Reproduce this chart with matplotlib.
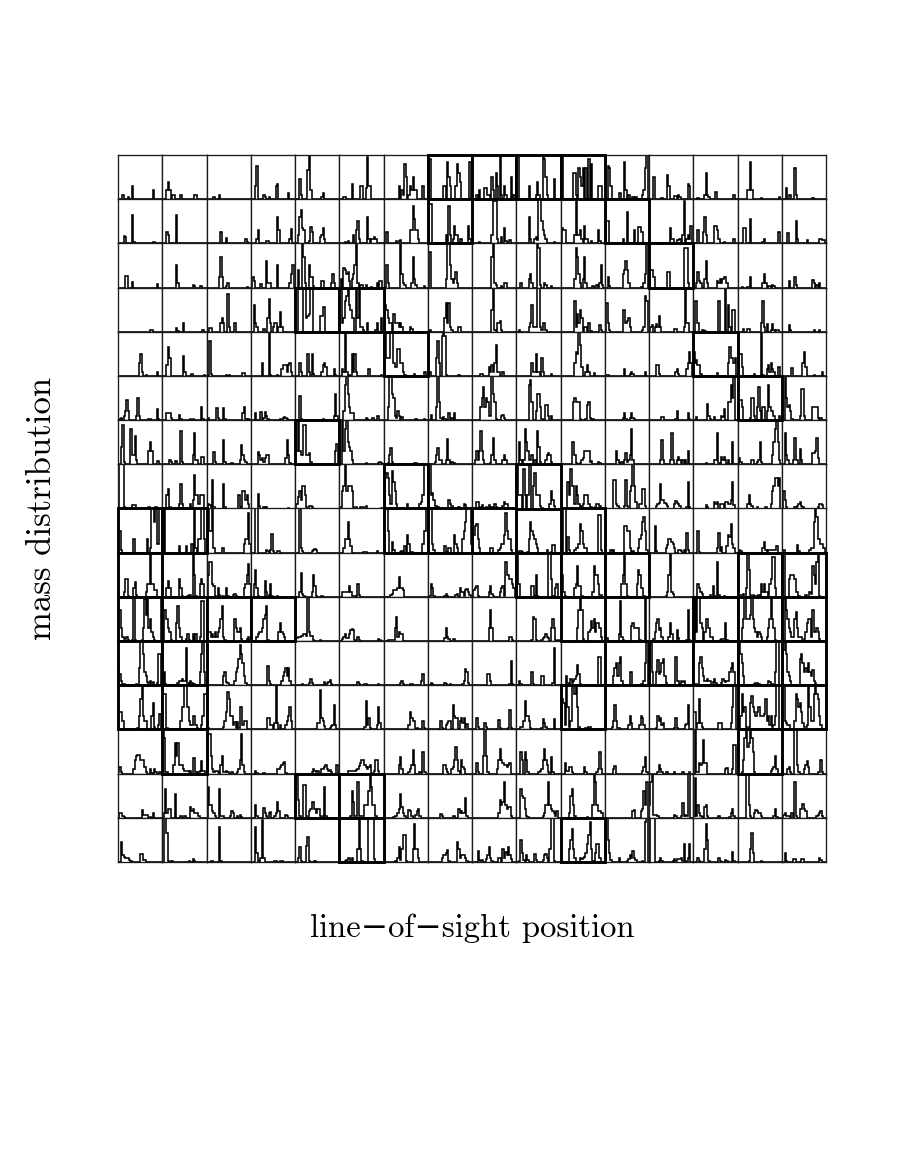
import numpy as np
import matplotlib
matplotlib.use("Agg")
import matplotlib.pyplot as plt
from matplotlib.patches import Rectangle

N_BINS = 32
X_LABEL = "line\u2212of\u2212sight position"
Y_LABEL = "mass distribution"

ROW_00 = [{3:1,7:.5,10:3,25:2},{3:2,4:4,5:2,7:1,8:1,13:1,23:1,24:1},{5:.4,9:1},{3:3,4:7.5,9:1,10:.6,13:.4,18:3,19:3.5,27:1.5},
 {3:4.5,4:1,9:6.5,10:10,11:2,19:.6,20:1.5},{3:.5,4:.5,9:3.5,15:3,16:3,19:2.5,20:9.5,21:3,22:3},{11:3,13:2,14:1,15:8,16:5,18:1,19:3,20:2,21:5,22:2,23:2,28:3},{1:9,11:3,12:3,14:8.5,15:5,16:3,20:3,21:8,22:6,23:4,30:8.5},
 {3:1,5:2,9:2.5,10:2.5,11:1,12:1,14:5,15:2,17:6,18:3,20:10,21:1,23:3,24:1,28:5,30:1},{0:10,1:10,9:3,14:1,15:4,16:1,19:10,20:9,21:5,22:1,27:4.5},{0:10,1:10,9:6,10:6,11:1,13:7,14:5,15:3,16:7,18:7,20:9,22:8,27:3,28:3,29:3},{2:7.5,3:7,4:3,10:1.5,11:1.5,14:8.5,15:2,17:1,20:.5,22:.5,27:1,28:2,29:7,30:10},
 {3:5,9:.3,13:5.5,14:3,18:.7,19:.7,21:1,22:.5,28:3.5,29:3},{3:.3,8:1,9:6,10:1,11:.5,16:1.7,29:1},{7:2,8:2,9:8.5,10:2,17:.3,30:.5},{3:2.5,5:1,6:1,9:7,10:1,22:.3}]
ROW_01 = [{4:1.7,5:1.5,10:6.5,11:.3,25:.3,26:.3},{3:2.5,4:2,10:6.5},{10:2.5,14:1.3,28:1,29:.4},{4:1,5:3,11:.6,12:.6,19:6,20:3,28:1,29:3.3},
 {2:2,3:6,4:7.5,5:3.5,6:3,10:.5,11:3.8,12:2.5,18:1.5,19:2,20:3.5,21:1},{4:.4,6:.5,10:2,12:3,13:5,14:1,20:6,21:1,23:1,24:1,25:1.5,26:1},{2:2.5,9:.5,11:.6,12:.8,19:3,20:3,21:8.5,22:5.5,23:3,24:3,25:1},{1:9,2:9,13:2,15:8.5,16:2,18:1,19:4,20:2,21:2,23:1,24:1,29:4,30:1},
 {5:.3,14:2,15:9.5,16:9.5,17:9.5,18:1,21:1.5,23:3.5,24:.5,27:.7},{9:6,10:1,13:1,14:1.5,15:.7,16:10,17:10,18:5,19:3,20:2,21:1,27:.3},{1:3.5,2:3,3:3,10:2,11:10,12:2,13:2,14:3,15:1,17:4,18:1,19:1,22:.5,27:3,28:.5},{1:5,2:5,13:1,16:7,21:3,24:3.7,25:3.7,26:2.5,27:2.5},
 {15:3.5,16:1,17:1,20:.7,21:.7,22:1,24:2,25:9.5,27:1,28:2,29:1,30:4},{3:3,7:2.5,8:6,9:2,15:4,16:4,17:3,18:1,22:.3,29:1},{4:3.5,5:3.5,9:5.5,18:.3,19:1,29:2.5,30:2.5},{4:2.3,10:5,11:1,18:.7,27:1,28:1,29:.7,30:.7}]
ROW_02 = [{5:2.6,6:2.6,10:1.2,28:.7},{10:5,11:1,22:.5,23:.3,27:.4,28:.3},{9:2.5,10:7,11:2.5,14:.3,15:1,29:.2},{1:2.5,2:1.5,7:.7,11:6,12:1,13:1,14:1,19:5,28:1,29:3,30:5},
 {2:4,5:10,6:7,7:1,10:5,11:2.5,12:2.5,13:.3,19:1.5,20:1.5,26:1,27:3,28:1},{1:2,3:4.5,4:4,5:3,6:3.5,7:1.5,9:2,10:3,11:5,12:10,13:1,15:.5,16:.5,19:.6,23:.2,27:1,29:1.5,30:1.5},{2:5,3:1,12:10,13:3,14:1,15:.5,20:1,21:7,22:2,23:.5,29:.3},{1:8,13:2,14:10,15:10,16:5,17:2,18:1,19:2,20:3.5,21:1},
 {14:7,15:10,16:1,17:.5,21:.3,23:1,24:1},{3:1,9:2,10:3,11:1,15:10,16:9,17:.5,20:1,21:.5,25:.3},{10:2,11:9,12:7,13:3,14:1,16:2,17:7,18:1,23:.3,26:.5,28:1,29:5,30:.5},{2:2.5,3:.3,13:3,14:4,15:6,16:4,17:1,26:.2,28:1,29:3,30:10},
 {1:4,2:4,3:2.5,13:3.5,14:3.5,25:9,26:9,27:9,28:1},{2:1,3:3.5,4:1.5,5:1,8:2,9:6,10:1,17:1.5,18:1,19:2,20:1,21:2,22:2.5,23:2.5,24:1},{3:.2,7:.2,8:.2,9:2.3,18:1,19:3,20:1,22:.3,23:.3,25:.6,26:.3},{5:1.5,9:2.3,10:.5,22:1.7,23:1,25:.5,27:1}]
ROW_03 = [{23:.3,24:.3},{10:.8,11:.2,15:2,29:.3},{2:.8,3:.8,10:2,11:3,12:2,15:8.5,16:1,20:2},{2:6,3:2,4:1,9:.7,12:3,13:7.5,14:2,16:1,17:2,18:2,20:1,21:4.5,22:1},
 {0:10,1:10,6:10,7:10,8:3,9:3.5,10:4,11:10,12:10,18:3.5,19:3.5,20:5.5,21:5.5},{0:10,1:10,2:2,3:3,4:7,5:8,6:10,7:6,8:5,9:3,10:3,12:10,13:3,14:10,15:1,16:1,17:.5,20:2,26:.5,27:2,30:3},{0:10,1:6,2:5,3:3,4:2,5:2,7:4,8:2,9:2,10:2,11:1,12:2,13:1,19:1,20:.7},{1:.5,12:3,13:6.5,14:2,15:6.5,16:1,17:.5,22:1,23:1},
 {14:5,15:10,16:.5,18:2,19:2,20:2.5,21:.5},{2:.3,9:1,10:2,11:6,12:1,13:1,14:1,15:10,16:10,17:1,18:.3,19:2,20:2,21:.5},{10:7,11:1,12:4,13:2,14:5,15:3,17:1,18:1,20:2,22:.2,28:1.5,29:.3},{1:6.5,2:2,3:.3,13:5,14:5,15:2,16:2.5,17:3,18:1,27:.4,28:1,29:8,30:7},
 {1:1,2:1.5,4:1,5:1.7,6:1,7:3.5,8:1,18:.7,19:.7,25:1,26:10,27:2,28:2},{1:7,2:7,3:2,6:.3,7:.4,8:.2,18:7,23:10,25:6,26:1,28:5,29:5},{4:.7,7:.7,8:.7,17:2,18:7,19:1,21:1.7,24:.5,25:1.7,26:.5,28:.5,29:.5},{5:1.5,6:.5,23:.3,27:.3}]
ROW_04 = [{15:3,16:5,17:1,20:.2,28:1},{3:2.5,4:6.5,5:4,15:4.5,16:1,21:.4,30:.3},{2:8,3:.5,14:.3,16:.3,26:.7,27:.7},{8:3,13:10,14:.3,19:.2,22:1.5,23:2.5,24:2.5,25:2.5,26:1,27:2.5,28:3,29:1},
 {3:3,4:1,9:5,10:1,12:5,13:.5,19:1,20:2.5,21:3,22:2,28:1.5,29:.3},{2:1.5,3:1,4:10,5:1,7:.3,9:5,10:1,11:5,12:1,21:1.5,30:.2},{0:10,1:10,2:4,3:4,4:4,5:10,6:10,7:3,8:2,9:2,10:6,11:6,12:3,13:3,14:1,15:.2,22:.5,29:1,30:1},{1:1,6:4,7:8,8:3,10:9,11:10,12:9,13:.2,22:.2},
 {6:.4,7:.4,12:2,13:1,14:2.5,15:1,16:3,17:7,18:1,19:1,22:1},{11:3,12:1,13:1,14:5,15:1,16:1,18:4,19:1,25:.5},{10:3,11:5.5,12:5,13:10,14:7,15:2,18:1,19:2.5,20:1,24:.7},{1:.2,2:.2,14:1.5,18:.5,19:1,20:.5,29:1},
 {5:2.5,6:2.5,7:.4,19:1,20:1.5,21:.5,27:1.5,28:3,29:5.5,30:3},{0:5.5,1:3,2:3.5,3:2.5,4:2.5,5:.5,17:.7,25:3,26:6.5,27:4,28:4,29:3,30:4},{1:5,2:5,3:2,12:.4,17:10,18:.3,21:1.5,22:2.5,23:1,24:3,25:1.5,26:1,29:2,30:2},{7:1.7,15:3,16:5.5,17:2,23:.3,29:1}]
ROW_05 = [{1:.2,2:.4,4:1,5:2,6:4.5,7:2,13:1,14:5,15:1,22:.3,23:.3,28:2.5,29:.3},{3:1.7,4:1.7,5:1.7,6:.5,12:1.2,13:.3,20:.2,22:.2,28:3,29:.3},{1:.4,7:2.7,8:.5,12:2.7,13:.3,26:1.5,27:3,28:.2,30:.3},{3:1.5,7:1.8,9:.5,10:1.8,11:1,12:.2,21:.2,23:.5,24:.7,25:.5,26:.2},
 {3:5.5,4:.3,20:.2,28:1,29:6,30:1},{3:2,4:8,5:10,6:6,7:3,8:1.5,9:1.5,10:1.5,19:.4,20:.2,24:.4,27:1,28:1},{3:3,4:10,5:10,6:6,7:5,8:1,9:.5,10:2,11:1,13:.7,23:.2,29:.3},{2:1.2,6:3,7:10,8:4,9:.5,11:.6,12:.3,15:1.7,17:.5,19:1.7},
 {6:3,7:5,8:7.5,9:3,10:5,11:4,12:1,13:1,14:10,15:6,16:4,17:.3,21:1,22:1.2,23:.5},{9:8,10:9,11:4,14:2,15:6,16:6,17:3,18:.3,21:3.5,22:3.5,23:1,25:1},{9:4,10:5,11:4,12:4,13:4,14:.3,18:.3,19:3.5,20:4,21:.5,23:.3},{13:.5,14:1.5,15:.2,18:.5,19:1.7,20:.5,21:.3},
 {9:.6,10:.6,19:.3,20:2,28:1.5,29:.3},{2:.7,10:3.7,11:1,12:.3,15:.7,20:1,21:.7,22:2.5,25:4,26:4,27:8,28:5,29:10},{1:4.5,2:4.5,3:3,9:.5,10:5,11:5,12:1,14:3,15:7.5,16:2,18:3,19:3,21:2,22:8,23:3,24:2,25:2,26:1,30:1},{2:10,3:5,4:3,5:3.5,6:2,7:.3,13:1,14:7,15:7,16:1,22:3,23:3,24:3,25:3,26:.5,28:.5}]
ROW_06 = [{2:4,3:9,4:.5,9:8,10:2,11:2,12:6.5,13:1,22:3,23:5,24:3,28:.7,29:.7},{5:1,6:.5,9:.7,10:.7,13:7.5,14:.5,22:2,23:7,24:1,25:1,28:1.7,29:1.7},{5:2.7,6:.5,12:5.5,13:.5,18:.2,24:1,25:4.3,26:2,27:1,28:.5},{5:2.8,6:2,7:1,8:1.5,9:.5,10:1.5,11:2,12:2,25:1.5,26:5.5,27:2,28:.3},
 {0:10,1:3,2:10,3:3,4:2,5:2,6:9,7:9,8:2,9:2,10:2.5,11:.5,29:3,30:4.5},{2:10,3:3,4:8,5:10,6:5,7:4,8:3,9:1,19:.2,28:.3,29:.5,30:.3},{3:.2,4:2,5:3.7,6:.5,22:.2,23:.2},{5:.5,6:2,7:3.7,8:1,9:1,13:1,14:5.7,15:1,17:.5,19:.4},
 {2:1,3:3,4:1,5:3,6:7.5,7:3,8:1,13:.2,14:2,15:6,16:1,22:1,23:2,24:1},{2:5,3:1,5:1,6:8,7:5,8:3,9:1,10:1,11:2,13:1,15:7.5,16:4,17:.5,21:1,22:2,23:2.5,24:2,25:.5},{8:5,9:5,10:2,11:.2,14:.2,15:1,16:1.5,17:3,18:3,19:3,20:3,21:.5,22:.7,27:.5,28:.2},{8:3,9:1,10:.3,12:.5,14:1,15:2.5,16:.5,17:1,18:2,19:8,20:1},
 {8:1,9:5.5,10:1,15:1,16:7,17:1,20:1,21:1.7,22:1,24:1,26:1,28:3},{9:.2,15:1,16:1,17:7,18:.3,20:1.7,21:1,22:1.7,23:1,25:1,28:5},{1:1.5,2:.5,10:1,11:1,14:.5,15:1,16:5,17:.5,25:2,26:5,27:8,28:10,29:5,30:1},{2:7,3:2,4:1,8:1,9:6,10:1,11:1,13:3.5,14:1,22:2.5,23:2.5,24:3,25:6,26:1.5}]
ROW_07 = [{0:.3,1:10,2:10,3:10,4:.3,10:.7,11:.7,12:.7,22:.3,27:.3},{3:3,4:4.5,5:.3,12:1,13:5.5,14:1,20:1,22:2,23:7.5,24:3,25:3,26:1,27:3,28:3,29:3},{1:1,2:.7,4:6.5,5:.3,12:5.5,13:.3,23:3,24:.3,26:4,27:4,28:2,29:3,30:1},{5:3.3,6:.5,9:.3,11:.4,27:.2},
 {1:1,2:2.5,3:4,4:2,5:5,6:5,7:3,8:.3,10:.5,11:.5,12:.3},{0:.3,1:.3,2:4,3:5,4:10,5:4,6:5,7:5,8:5,9:4,10:.3,12:.3,15:.3,16:.3,17:.3,19:.5,30:.2},{0:2,1:7,2:8,3:7,4:3,5:1,6:8.5,7:6,8:4,9:1,17:1,26:1,27:1.5,28:3,29:10,30:10,31:10},{0:10,1:10,2:3,3:3.5,4:2,5:.5,6:.5,7:.3,15:2,16:1,17:.5,22:.3,26:1,27:.7},
 {3:1.5,4:1.5,5:.3,7:.7,8:.2,10:.3,12:.7,14:.3,16:1,17:.3,22:.5,23:1.5,24:1,25:1},{0:10,1:3,2:3,3:3,5:9,6:3,8:3,9:10,10:10,12:5,13:8,14:3,15:3,16:3,17:.5,18:.2,24:1,25:4,26:2,27:.5},{5:6,6:3,7:9,8:5,9:5,10:1,11:5,12:3,13:1,15:.5,16:1,17:3,18:3,19:3,20:1,22:.3,25:.3,26:1,27:1,28:.5},{6:6.5,7:6.5,8:1,9:.5,10:.2,14:.5,15:6.5,16:.5,18:4,19:5,20:10,21:5,22:1.5,25:1,26:1,27:4.5,28:4.5,29:.5},
 {5:.5,6:1,7:1.3,8:5.5,9:2,10:2,11:1.3,12:1,13:.5,18:1,19:1.7,20:1.3,21:1,22:.5,27:.3,28:6,29:.3},{9:.7,10:.3,15:1.5,16:1,17:1.5,19:1,20:1,21:1,23:1.5,24:1.5,25:1,26:1,27:2,28:6,29:.7},{7:1,8:3,9:1,10:.5,14:.3,20:.3,24:1,25:4,26:5,27:7,28:7,29:5,30:7},{1:4,2:2,3:.3,9:.3,11:.5,12:1,13:1.5,14:.5,15:.3,26:.4,27:1,28:1,29:.7}]
ROW_08 = [{0:5,1:5,2:.5,11:3,21:3,23:1,24:10,25:10,26:7,27:10,28:2,29:2,30:10,31:10},{1:10,12:1.5,17:1.5,21:2,23:10,24:1,26:3,27:3,28:10,29:10,30:3},{0:10,1:10,2:5,3:5,4:10,5:1,11:1,12:1,27:2,28:3,29:3,30:9,31:2},{3:10,4:10,11:.7,12:.3,14:.5,15:4.3,16:.3,19:.3,20:.3},
 {3:10,4:1,5:.3,12:.3,13:.5,14:.8,15:.5},{3:1,4:3,5:3,6:7,7:3,8:1.5,17:.2,18:.2,19:.2,27:.3},{0:10,1:10,2:10,3:5,6:2.5,7:.7,12:.2,13:.3,15:1.5,17:4,18:2,20:.2,28:2,29:5,30:5,31:10},{0:10,1:10,2:10,3:2,4:.5,12:1.5,13:.2,15:1,16:1,19:4,20:2,21:1,25:3,26:5,27:7,28:10,29:10,30:10,31:2},
 {1:4,2:6,3:6.5,4:3,5:1,13:1,14:1,19:.5,20:1,21:2,22:2,23:4,24:9,25:5,26:3,27:3,28:.5},{2:.3,3:.3,4:.2,8:.2,9:3,10:7,11:5,12:4,13:3,14:2,15:1,22:.5,25:.2,26:1.7,27:1.7},{2:10,3:10,5:3.5,6:.5,10:.5,11:1,12:1,13:2,14:6.5,15:5,16:2,17:1,18:1,27:8.5,28:8.5,29:.5},{4:.5,6:.5,14:6,15:6,16:5,17:5,18:1,20:.3,24:1,25:3,26:4,27:7,28:8,29:5,30:.7},
 {4:6,5:.3,12:1,13:1.7,14:3,15:3,16:2.5,17:2,18:1,21:.5,22:.7,23:.3,25:.5,27:4.5,28:.5},{3:5,4:.2,17:1,18:4.5,19:.3,20:1.3,24:1.5,25:4,26:3.5,27:6.5,28:2,29:1},{1:.7,2:.3,18:1,19:2.5,20:.5,22:.5,23:.5,24:.5,25:.5,26:.5,27:.5,28:1.5},{1:.5,11:1.7,12:.3,20:.5,21:1,22:1,23:7,24:10,25:8,26:3,27:3,28:2,29:2,30:1}]
ROW_09 = [{4:1,5:4,6:4,7:.2,11:2,12:3.3,13:.5,20:1,21:3,22:3,23:10,24:3,25:3,26:1.5,27:1.5},{3:2,4:3.5,5:2,12:4,13:2,14:.3,18:.3,19:.5,20:.5,22:10,23:5,24:.3,27:3,28:4,29:3},{1:5,2:8,3:8,4:3,5:2.5,6:.3,8:2,9:.5,11:.2,12:.2,14:2,15:.3,19:.4,20:.7,21:.3,27:2,28:3,29:5,30:7.5,31:3},{2:3,3:6,4:2,5:.3,10:3.5,11:1,13:.5,14:3,15:.3,19:.3},
 {3:1,4:5.5,5:.7,6:.2,12:1,13:5,14:2.5,15:.3,19:.2},{2:1,3:1,4:1,5:1,6:1,7:2.5,8:1,9:.3,10:.3,11:.3,13:3,14:.4},{5:.5,6:.7,7:1.5,8:1.5,9:1.5,10:2,11:4.5,12:2,13:2,14:1.5},{1:.3,2:3,3:2,4:.3,12:.3,13:.7,14:.3,20:.5,21:.7,23:2,24:1,25:1,26:.3,27:1.5,28:1.7,29:1,30:.5},
 {1:1.5,2:2,3:2.5,4:.3,12:1,13:2.5,14:.7,15:.3,20:1,21:2,22:2.5,23:.3,24:8,25:5,26:5,27:4,28:4,29:3,30:2},{0:10,1:3,2:3,11:2.5,12:2.5,13:.3,14:5,15:.3,23:10,24:10,25:4,26:.3,28:2,29:3},{1:5,2:1,3:.2,10:2,11:3,12:7,13:2.5,14:2.5,15:.3,23:1,24:7,25:5,26:5,27:3,28:.5,29:.5},{12:3,13:5,14:10,15:3,16:.3,23:3,24:6,25:5,26:2,27:2,28:.3},
 {12:.3,13:1,14:5,15:10,16:1,17:.7},{3:3,4:2,5:1,6:.7,12:.5,14:2.5,15:.3,17:8,18:.5,22:.3},{2:.5,3:.5,4:.7,6:2,7:10,8:6,9:.5,11:.5,13:.2,15:.5,17:3,18:1,19:3,20:1,21:1,23:3,24:4,25:9,26:9,27:2},{0:10,1:10,5:4,6:5,7:5,8:5,9:4,10:1,11:1,12:.3,17:.5,20:1,21:.7,22:7,23:5,24:3,25:8,26:10,27:.3}]
ROW_10 = [{0:7,1:7,2:3,3:1,4:.5,5:.5,6:1,7:.3,10:.3,11:10,12:.3,17:.3,18:3,19:9.5,20:6,21:10,22:3,23:5,24:2,25:1,26:.3,31:10},{1:7,2:7,3:5,4:3,5:2,6:.3,10:4,11:8,12:3,13:1,17:.5,18:1.7,19:.3,22:1.7,23:.3,24:1.7,27:1,28:9,29:9},{1:2,2:2,3:1,4:1.5,5:1,6:2,7:1,8:2,9:3,10:5,11:8,12:1,13:.3,20:5,21:3,22:2,23:2,24:3,25:.5,29:.5,30:1},{4:1,5:1.5,6:2,7:2,8:3,9:5,10:6,11:8,12:.3,20:2,21:4,22:2,23:1.5,24:1},
 {1:.7,2:1,3:1,4:1.2,5:1.2,6:1.5,7:1.7,8:1.2,9:10,10:2,11:1.2,12:1.2,13:.3,18:.2},{2:.5,3:1,4:1.5,5:.7,6:.7,7:1.5,8:2.5,9:2.8,10:2.5,11:.3,13:1,14:.3,28:.5,29:.3},{3:.2,4:.2,5:.2,6:.2,7:.3,8:3,9:5.5,10:1,11:2,12:1.7,13:1.7},{12:.7,13:3,14:1,15:.5,18:.5,19:.5},
 {12:3,13:7,14:3,27:1,28:1,29:.3},{11:.2,12:5.5,13:5,14:.3,18:.3,19:.7,20:1,21:1.7,22:1,23:.7,25:3,26:5,27:3,28:.3,30:.2},{12:3,13:7,14:10,15:7,16:.5,20:2,21:2.5,22:4.5,23:3,24:5,25:2,26:4,27:4,28:3,29:1},{1:.7,10:1.5,11:9,12:1,13:.3,19:3.5,20:4,21:3,22:3,23:3,24:3,25:.3,29:10},
 {3:.5,4:2,5:4,6:5,7:2.5,8:3,9:1,14:1,15:4,16:1.5,20:2.5,21:.7,27:.2,28:7,29:.3},{1:10,2:2,3:10,4:10,5:4,6:3,8:2,9:5,10:5,11:3,12:1,13:1,19:.3,20:.5,21:.5,22:.5,23:4,24:.3},{3:3,4:5,5:10,6:5,7:5,8:5,9:6,10:10,11:5,12:3,13:2,14:1,15:2,16:1.5,17:1,21:1,22:3,23:5,24:10,25:5,26:3,27:.3},{2:10,3:7,4:5,5:3,6:2,7:1,8:1,9:5,10:6.5,11:3,12:1,13:1,14:1,16:.5,17:2,18:4,19:5,20:5,21:1,22:7,23:2,24:2,25:3,26:2,27:.5}]
ROW_11 = [{0:5,1:2.5,2:1,3:.2,4:.2,13:.3,15:4,16:10,17:10,18:7,19:3,20:2,21:.7,22:.5,23:1,24:.5,25:.7,28:.4,29:7,30:7},{1:3,2:.3,11:.5,12:1,13:1,14:1.5,15:1,16:1,17:8.5,18:.5,20:1,21:.5,23:.2,27:3,28:7,29:10,30:3},{12:2,13:3,14:.7,15:.5,20:1,21:3,22:4,23:6,24:9,25:7,26:5,27:2,28:.5},{12:4.3,13:1,14:.3,22:1,23:2,24:3,25:4,26:2,27:4,28:1},
 {5:.3,10:.5,11:1.5,12:.5,21:.7,23:.5,24:.8,25:1.2,26:.3},{13:.8,14:.2,18:.3,19:.3,28:.3},{12:.6,13:1,14:.2,19:.3,20:.3,27:1,28:2.5},{2:.5,3:.2,12:.4,13:.2,16:.3,25:.3,26:1,27:3.7,28:3,29:.4},
 {11:2.5,12:2.5,13:1,27:.3,28:5.5,29:.3},{2:1,3:.3,11:3,12:.2,18:2,19:2,26:.5,27:8.5},{4:2,5:.5,7:1.5,8:.5,9:1,10:1.5,11:2,12:4.5,13:2.5,14:.3,27:6.5,28:6.5},{6:2,7:4,8:5,9:2,10:5,11:6.5,12:1,18:3,19:3,26:.3,28:1,29:5,30:10},
 {1:10,2:3,5:3,6:5.7,7:2.5,8:3,9:5,10:6,11:2,12:.5,19:6.5,20:1,21:1,22:.3,23:1,24:.7,25:1},{1:.3,2:.2,4:5,5:6.5,6:4,7:2,8:1,9:1,10:1.5,11:1,12:1,14:.7,15:1.5,16:.5,20:.5,21:1.5,22:1,23:.7,24:1,25:1,26:3,27:4,28:5,29:3},{0:10,1:10,2:7,3:5,4:2,12:.2,13:.4,14:.4,15:.2,22:1,23:.7,24:.3,25:.2,27:3,28:10,29:10},{1:8,2:10,3:7,4:3,5:2,6:1,13:6,14:7,15:5,16:3,17:4,18:3,19:5,20:3,21:2,22:3.5,23:1,24:.5}]
ROW_12 = [{0:4,1:4,2:4,3:2,14:.3,15:3,16:7,17:10,18:3,19:2,20:2,24:3,25:6,26:.5,29:1,30:3.5},{0:8,1:8,2:8,3:.3,13:2,14:5,15:5,16:10,17:10,18:5,19:2,20:1,21:1,22:3,23:3,24:1,25:.3,28:1,29:3,30:8,31:8},{1:.3,2:.2,3:.1,12:.5,13:2,14:4,15:8.5,16:7,17:3,18:3,19:1,20:1.7,21:.4,22:1.7,23:.4,24:5,25:5,26:1,27:2,28:2},{12:2.5,13:2.5,14:1,15:1,17:1.5,18:10,19:1.5,21:1,25:1,26:2,27:3,28:5,29:2},
 {16:1.5,17:1.5,18:9,19:2.5,20:2,21:.7,25:.3,26:.8,27:1,28:5.5,29:1},{18:.5,19:6.5,20:1,21:2.5,22:.3,27:1,28:5,29:1.5},{18:1,19:4,20:2.5,21:2,22:2,24:.3,28:2,29:.3},{9:2,10:.3,13:1,14:1.5,15:2,16:2,18:5.5,19:3,20:2.5,21:2.5,23:2,24:2.5,25:1.5,26:2.7,27:.3,28:1.2},
 {3:2.5,4:.5,5:.2,9:1.5,10:.5,19:2.2,20:.3,26:.3,27:4.3,28:.3},{3:.5,4:.5,5:2,6:6.5,7:3,8:3,9:2,10:.3,18:.3,19:2.3,20:1.5,21:.5,27:2.3},{0:3,1:7,2:6,3:1,4:10,5:5,6:.5,7:2,8:10,9:10,10:8,11:10,12:5,13:.5,18:.3,19:.3,20:.5,21:.5},{5:.5,6:2,7:5.5,8:2,9:.3,10:.3,11:.2,17:1,18:3,19:1.5,25:1,26:3,27:2.5,28:1},
 {5:.3,6:3,7:2,8:2.5,9:1,10:1.5,14:.2,18:.3,19:2.7,20:.3,26:1,27:1.2,28:5.5},{0:4,1:4,2:.3,3:1.5,4:7,5:1.5,6:.5,18:1.5,19:1.5,20:1.5,27:1.5,28:5,29:10,30:10},{2:3,3:8,4:4,5:5,6:.5,8:.5,9:6,10:7.5,11:5,12:4,13:3,14:4,15:5,16:3,17:3,18:3,19:3.5,20:7,21:2,22:3,23:1,24:3,25:.5,26:1,27:3,28:10,29:10},{0:10,1:10,2:2,3:1.5,4:1,5:1,9:2,10:8,11:7,12:5,13:6,14:4,15:1.5,16:.5,17:.5,18:1,19:10,20:5,21:2,22:2,23:8,24:10,25:8,26:7,27:3,28:1}]
ROW_13 = [{0:.3,1:1.5,2:.3,11:1,12:3,13:4,14:4.3,15:4.3,16:3,17:3,18:3,19:1.5,20:.3,23:1,24:.2,26:1,27:.3,30:.4},{0:10,1:8,2:.3,3:.3,8:2,9:7,10:4,11:7,12:2,13:2,14:2,15:1,16:.5,17:.5,18:.5,19:.4,20:.7,22:3.5,23:3.5,24:.3,26:.3,27:.5,28:2.8,29:.7,30:.7},{1:9,2:9,3:4,4:1,5:.3,6:.5,7:.5,8:.3,10:2,11:4,12:.4,13:.3,14:.7,15:.3,18:.3,22:.3,23:1,24:3,25:9,26:2,27:.3},{3:.5,4:.2,9:.2,19:1,20:1,21:1.5,22:2,23:2.3,24:2.6,25:.2},
 {12:.3,13:1,14:.7,15:.3,16:.5,19:1,20:1,21:1.5,22:2,23:1,24:.5,25:.8,26:.3,30:2},{6:.7,7:.7,8:.7,9:.7,10:.7,11:.7,12:.8,13:1,14:1.7,15:2.3,16:3,17:3,18:2,19:1.5,20:1,21:1.5,22:2,23:.2,25:.7,26:3,27:3,28:.5},{11:2,12:3.7,13:1,18:.3,19:1,20:2,21:5.3,22:2,26:.3,28:5,29:.3,30:.3},{11:2,12:2,13:1,14:.3,17:1,18:1.5,19:3,20:6,21:3,22:.5,24:3,25:1.5,26:1},
 {3:2.5,4:.3,8:4,9:10,10:4,11:.3,18:1,19:3,20:5.5,21:3,22:2.5,23:2,24:2,25:1.5,26:2,27:2.5},{3:5,4:3,6:5,7:3,8:.3,16:.3,17:.7,18:1,19:3,20:5.5,21:3,22:2,23:.3,25:3.7,26:.3},{3:2.5,4:.5,5:.5,6:1.5,7:1.5,8:.3,17:1.5,18:.3,26:.3,27:1,28:5,29:1},{6:1,7:1.7,27:.5,28:1.5,29:3.7,30:.3},
 {6:.3,7:2,8:1,9:.3,12:.3,13:.3,18:.3,24:.3,29:.3},{1:10,2:.3,3:.3,4:2.5,5:2,6:2.5,7:7.5,8:2.5,9:2.5,23:1,24:1.3,28:1,29:6.5,30:6.5},{3:.3,4:3,5:8,6:10,7:6,8:7,9:10,10:8,11:5,12:.3,24:.5,25:1,26:1.5,27:4,28:1},{4:1,5:1.5,6:.3,9:10,10:10,11:2,12:.3,16:1,17:2,18:2.8,19:1.5,26:.3,27:.3,28:3,29:.3}]
ROW_14 = [{1:1,2:1,3:.3,4:.2,17:1.7,18:.7,19:.6,20:.6,21:.7,23:.2,25:1},{1:1,2:6.5,3:1,4:2,5:2,9:5.5,13:.4,16:.5,20:2.5,21:1.5,22:2,23:1,24:1,25:1,26:.3},{1:7,2:3,3:3,4:1.5,5:1,6:.3,9:6.5,10:.3,11:.3,12:.3,17:.4,18:1.5,19:1,22:.3,24:.7,25:.2},{3:3,4:.3,9:2.2,10:1,11:.3,13:1,14:1.3,17:.5,18:1,19:3.5,20:1.5,25:.7,26:.5},
 {0:6,1:10,2:4,3:.5,6:7.5,7:7.5,8:.5,10:1.5,11:2,12:3.5,13:3.5,14:2,15:1,16:2,17:2,18:.5,20:.5,21:7,22:.3},{8:.3,9:6,10:3.5,11:.5,12:.3,13:8,14:.3,15:.3,16:.3,17:.3,18:3,19:3,20:3,21:6,22:10,23:7,24:3,25:3,26:.3},{7:.2,8:.3,9:.5,10:1,11:2,12:5.5,13:2.5,14:1,15:.5,18:1.7,19:1.5,20:.5,23:.7,24:1.5,25:2,26:.5},{9:.8,10:.3,18:.5,19:.5,22:2,23:1,24:1.5,25:1.2,26:1.2,27:4.5,28:.4},
 {19:1,20:4,21:3,22:3.5,23:8,24:3,25:2,26:2.5,27:2.5,28:.3},{3:6.5,4:5,5:4.5,6:2,7:.5,8:.2,19:.4,20:1,21:3,22:3,23:8,24:3,25:2,26:1.5,27:1,28:.3,29:1.5},{6:1,7:5,8:6.5,9:3,10:.5,19:.1,23:3,24:10,25:8,26:3,27:1.5,28:1.5,29:1,30:1},{20:1.5,21:1.7,26:1.5,27:2,28:6,29:3,30:8},
 {0:3,1:8,2:10,3:.7,4:.7,5:.7,6:.3,18:.7,19:.3,23:.3,24:3.3,25:.3,26:.7,27:.3,28:10,29:10},{0:.3,1:9,2:.5,3:3,4:1,5:.5,6:.2,8:2.5,9:2.8,10:.3,18:.5,26:.2,27:1,28:2,29:.5},{6:10,7:10,8:3,9:.3,12:1,13:1.7,14:1.5,15:1,16:1,17:.3,26:.3,27:2,28:.2},{1:.7,2:1,3:.3,4:.3,5:.5,7:1,9:8,10:.5,13:2,14:2,15:3.2,16:2,17:1.5,25:.3,26:.7,27:1,28:1.5,29:.5}]
ROW_15 = [{2:4.5,3:1.5,4:1.2,5:1,6:1,7:1,8:.5,9:.3,16:1.7,17:1.7,18:.5,19:.5},{1:10,2:10,3:6.5,4:.3,6:.3,7:.3,19:.2,22:.7,23:.2},{3:.2,4:.2,9:8,10:.2},{3:8,4:2,5:.3,7:1,8:9.5,9:1,17:.3,18:.3,21:.3,22:.2},
 {2:1,3:3.5,4:.3,8:3.7,9:5.7,10:.3,14:.3},{4:.3,5:.5,6:1,7:.8,8:.5,9:.8,13:3,14:10,15:3,16:.3,21:10,22:10,23:10,24:10,25:.7},{8:.3,10:1,11:3.5,12:.5,13:3,14:6,15:6,16:.3,21:3,22:8.5,23:3,24:3,25:1},{10:1,11:1.5,12:1.5,13:2,14:2.8,15:.3,21:4.5,22:3,23:1,24:1.5,25:1.5,26:1.5,27:1,28:.3},
 {4:2.5,5:.5,6:.3,7:.5,10:.7,11:1.5,12:3.4,13:1,14:.3,19:1,20:1,22:3,23:1,24:2.2,25:1.5,26:3.3,27:1.5,28:.7},{2:.3,3:5,4:2,5:.5,7:1.5,8:.5,13:1.7,14:.5,19:.5,20:1.5,21:1.7,22:1,24:3,25:10,26:10,27:.3},{6:3,7:5,8:7.5,9:3,10:1,14:1,15:.7,16:1,17:1.2,18:2,19:4,20:6,21:9,22:3,23:.3,25:2,26:4,27:4,28:1},{1:10,2:5,3:2,4:.5,10:1,16:.3,17:.7,18:1.5,19:1,20:2.5,21:1,22:.5,27:.3,29:9,30:10},
 {1:10,2:10,3:10,7:.3,8:1,9:.3,17:.3,18:.7,19:.3,20:.7,21:.7,22:.7,23:1,24:.3,25:4,26:.3,28:1,29:4},{3:1,4:.2,8:3,9:8.5,10:5,11:.3,18:1,19:.3,23:.4,24:.2,28:2.3,29:.2},{8:.3,9:3,10:6.5,11:2,17:.2},{2:2,3:.3,8:.7,9:.7,14:.7,15:.7,27:1,28:.5}]

ROWS = [ROW_00, ROW_01, ROW_02, ROW_03, ROW_04, ROW_05, ROW_06, ROW_07,
        ROW_08, ROW_09, ROW_10, ROW_11, ROW_12, ROW_13, ROW_14, ROW_15]

HIGHLIGHT = {0:[7,8,9,10],1:[7,11],2:[12],3:[4,5],4:[6,13],5:[14],6:[4],7:[6,9],
             8:[0,1,6,7,8,10],9:[0,9,10,11,14,15],10:[0,1,2,3,10,13,14,15],
             11:[0,1,11,12,13,14,15],12:[0,1,10,14,15],13:[1,14],14:[4,5],15:[5,10]}

W, H = 900, 1164
L, R, T, B = 118, 826, 155, 862
fig = plt.figure(figsize=(W/100, H/100), dpi=100, facecolor="white")
cw = (R-L)/16
ch = (B-T)/16
edges = np.arange(N_BINS+1)
axes = {}
for r, row in enumerate(ROWS):
    for c, peaks in enumerate(row):
        ax = fig.add_axes([(L+c*cw)/W, 1-(T+(r+1)*ch)/H, cw/W, ch/H])
        vals = np.zeros(N_BINS)
        for k, v in peaks.items():
            vals[k] = v
        ax.stairs(vals, edges, color="black", lw=1.15, baseline=0)
        ax.set_xlim(0, N_BINS)
        ax.set_ylim(0, 10)
        ax.set_xticks([])
        ax.set_yticks([])
        for s in ax.spines.values():
            s.set_linewidth(0.95)
            s.set_color("#1a1a1a")
        axes[(r, c)] = ax

for r, cols in HIGHLIGHT.items():
    for c in cols:
        ax = axes[(r, c)]
        ax.add_patch(Rectangle((0, 0), 1, 1, transform=ax.transAxes, fill=False,
                               ec="black", lw=2.1, clip_on=False, zorder=20))
        ax.set_zorder(5)

fam = ["cmr10", "DejaVu Serif"]
fig.text(472/W, 1-928/H, X_LABEL, ha="center", va="center", fontsize=23.5, family=fam, color="black")
fig.text(42/W, 1-508/H, Y_LABEL, ha="center", va="center", rotation=90, fontsize=25, family=fam, color="black")
fig.savefig("out.png", dpi=100, facecolor="white")
